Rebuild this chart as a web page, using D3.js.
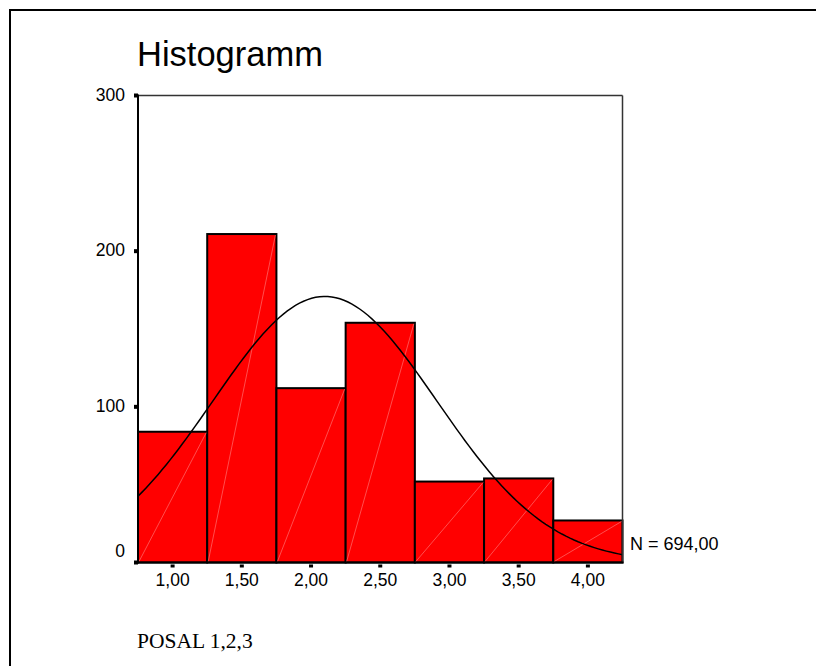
<!DOCTYPE html>
<html><head><meta charset="utf-8">
<script src="https://cdn.jsdelivr.net/npm/d3@7"></script>
<style>body{margin:0;background:#fff}svg{display:block}</style>
</head><body>
<script>
const binStarts = [0.75, 1.25, 1.75, 2.25, 2.75, 3.25, 3.75];
const binWidth = 0.5;
const counts = [84, 211, 112, 154, 52, 54, 27];
const xTicks = [1.0, 1.5, 2.0, 2.5, 3.0, 3.5, 4.0];
const xTickLabels = ["1,00", "1,50", "2,00", "2,50", "3,00", "3,50", "4,00"];
const yTicks = [0, 100, 200, 300];
const curveMean = 2.10, curveSd = 0.81, curveN = 694;
const title = "Histogramm";
const nLabel = "N = 694,00";
const xTitle = "POSAL 1,2,3";

const W = 816, H = 666;
const svg = d3.select("body").append("svg").attr("width", W).attr("height", H);

// outer frame (clipped at right/bottom)
svg.append("path").attr("d", "M10,668 L10,10 L818,10").attr("fill", "none")
  .attr("stroke", "#000").attr("stroke-width", 2);

const x = d3.scaleLinear().domain([0.75, 4.25]).range([138, 622.5]);
const y = d3.scaleLinear().domain([0, 300]).range([562.5, 95.5]);

// bars
const g = svg.append("g");
g.selectAll("rect.bar").data(binStarts).join("rect").attr("class", "bar")
  .attr("x", d => x(d)).attr("width", d => x(d + binWidth) - x(d))
  .attr("y", (d, i) => y(counts[i])).attr("height", (d, i) => y(0) - y(counts[i]))
  .attr("fill", "#ff0000").attr("stroke", "#000").attr("stroke-width", 2);
// faint diagonals
g.selectAll("line.diag").data(binStarts).join("line").attr("class", "diag")
  .attr("x1", d => x(d) + 1).attr("y1", y(0) - 1)
  .attr("x2", d => x(d + binWidth) - 1).attr("y2", (d, i) => y(counts[i]) + 1)
  .attr("stroke", "#ff7070").attr("stroke-width", 0.7);

// normal curve
const pts = d3.range(0, 121).map(i => {
  const xv = 0.75 + i * (3.5 / 120);
  const z = (xv - curveMean) / curveSd;
  const yv = curveN * binWidth / (curveSd * Math.sqrt(2 * Math.PI)) * Math.exp(-0.5 * z * z);
  return [xv, yv];
});
svg.append("path").datum(pts)
  .attr("d", d3.line().x(d => x(d[0])).y(d => y(d[1])))
  .attr("fill", "none").attr("stroke", "#000").attr("stroke-width", 1.5);

// plot frame: top/right thinner
svg.append("line").attr("x1", x(0.75)).attr("x2", x(4.25)).attr("y1", y(300)).attr("y2", y(300))
  .attr("stroke", "#333").attr("stroke-width", 1.5);
svg.append("line").attr("x1", x(4.25)).attr("x2", x(4.25)).attr("y1", y(300)).attr("y2", y(0))
  .attr("stroke", "#333").attr("stroke-width", 1.5);
svg.append("line").attr("x1", x(0.75)).attr("x2", x(0.75)).attr("y1", y(300) - 1).attr("y2", y(0) + 1)
  .attr("stroke", "#000").attr("stroke-width", 2);
svg.append("line").attr("x1", x(0.75) - 1).attr("x2", x(4.25) + 1).attr("y1", y(0)).attr("y2", y(0))
  .attr("stroke", "#000").attr("stroke-width", 2);

// y ticks
svg.selectAll("rect.yt").data(yTicks).join("rect").attr("class", "yt")
  .attr("x", x(0.75) - 4).attr("y", d => y(d) - 2).attr("width", 4).attr("height", 4).attr("fill", "#000");
svg.selectAll("text.yl").data(yTicks).join("text").attr("class", "yl")
  .attr("x", 125).attr("y", d => y(d) + (d === 0 ? -12 : -1) + 6)
  .attr("text-anchor", "end").attr("font-family", "Liberation Sans, Arial, sans-serif")
  .attr("font-size", 17.5).text(d => d);

// x ticks
svg.selectAll("rect.xt").data(xTicks).join("rect").attr("class", "xt")
  .attr("x", d => x(d) - 2).attr("y", y(0) + 2).attr("width", 4).attr("height", 3).attr("fill", "#000");
svg.selectAll("text.xl").data(xTicks).join("text").attr("class", "xl")
  .attr("x", d => x(d)).attr("y", 586)
  .attr("text-anchor", "middle").attr("font-family", "Liberation Sans, Arial, sans-serif")
  .attr("font-size", 17.5).text((d, i) => xTickLabels[i]);

svg.append("text").attr("x", 137).attr("y", 66).attr("font-family", "Liberation Sans, Arial, sans-serif")
  .attr("font-size", 34.5).text(title);
svg.append("text").attr("x", 630).attr("y", 550).attr("font-family", "Liberation Sans, Arial, sans-serif")
  .attr("font-size", 18).text(nLabel);
svg.append("text").attr("x", 137).attr("y", 648).attr("font-family", "Liberation Serif, Times New Roman, serif")
  .attr("font-size", 21.5).text(xTitle);
</script>
</body></html>
